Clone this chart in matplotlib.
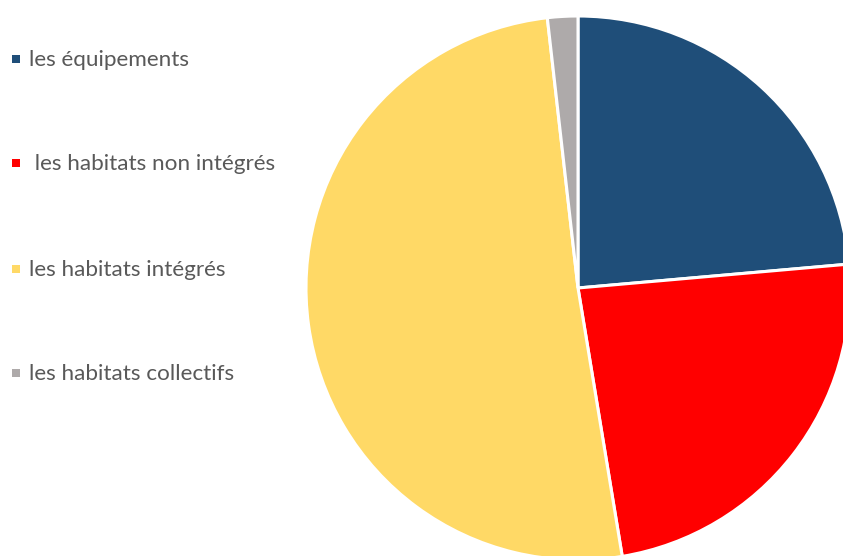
import matplotlib
matplotlib.use("Agg")
import matplotlib.pyplot as plt
from matplotlib.patches import Rectangle

# parts (%) llegides de la imatge
labels = ['les équipements', ' les habitats non intégrés', 'les habitats intégrés', 'les habitats collectifs']
valors = [23.6, 23.8, 50.8, 1.8]
colors = ['#1F4E79', '#FF0000', '#FFD966', '#AEAAAA']

W, H = 843, 556
fig = plt.figure(figsize=(W / 100, H / 100), dpi=100)
ax = fig.add_axes([0, 0, 1, 1])

# pastís en coordenades de píxel
ax.pie(valors, colors=colors, startangle=90, counterclock=False,
       center=(578, H - 288), radius=272,
       wedgeprops=dict(edgecolor='white', linewidth=2.2))
ax.set_xlim(0, W)
ax.set_ylim(0, H)
ax.set_aspect('auto')
ax.axis('off')

# llegenda a mà
y_files = [59, 163, 269, 373]
for lab, col, y in zip(labels, colors, y_files):
    fig.patches.append(Rectangle((12 / W, (H - y - 4) / H), 8 / W, 8 / H,
                                 transform=fig.transFigure, facecolor=col, edgecolor='none'))
    fig.text(29 / W, (H - y - 1) / H, lab, fontsize=16.2, family='Lato',
             color='#595959', va='center', ha='left')

fig.savefig('out.png', dpi=100)
